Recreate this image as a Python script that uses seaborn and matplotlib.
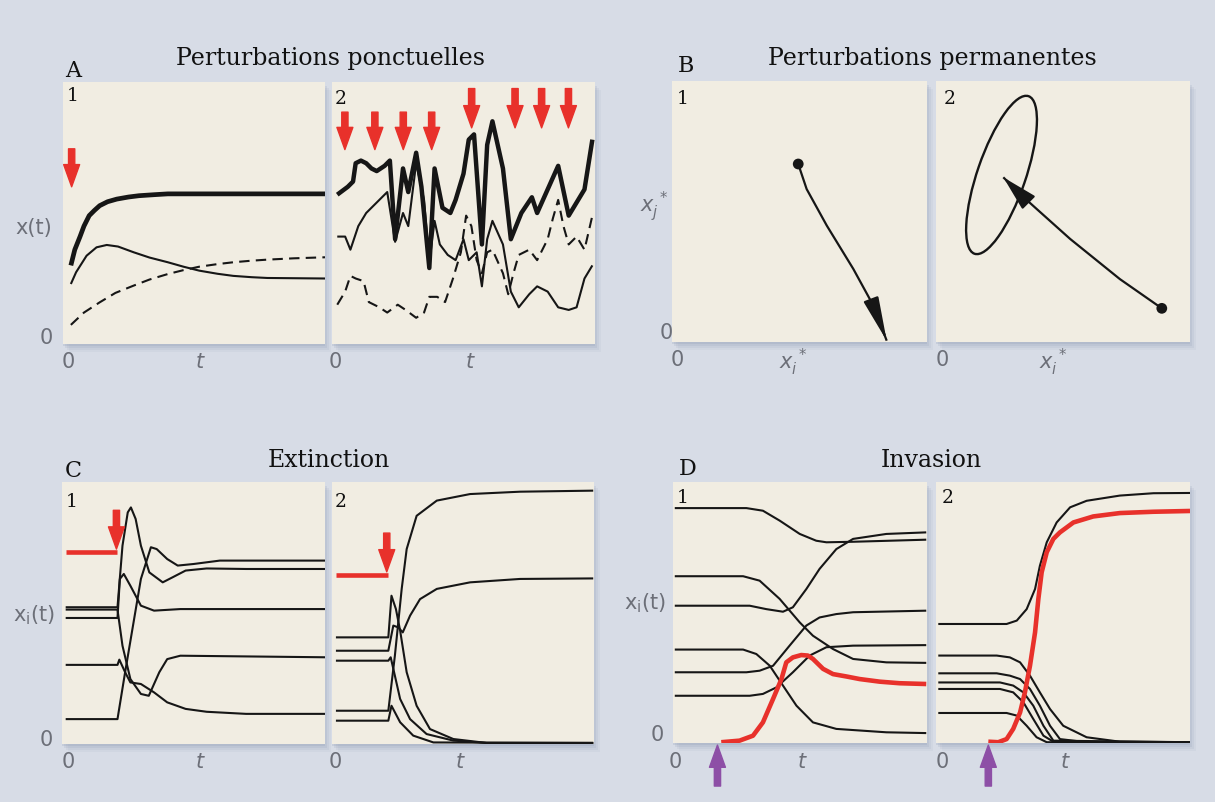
import matplotlib
matplotlib.use("Agg")
import matplotlib.pyplot as plt
import matplotlib.patches as patches
import seaborn as sns

W, H = 1215, 803

BG = "#d7dce6"
PANEL = "#f1ede2"
RED = "#e8312b"
PURPLE = "#8d4fa6"
GREY = "#6c6f78"
INK = "#161616"

# ---------------- A : perturbations ponctuelles ----------------
A1_THICK_T = [0.03, 0.045, 0.065, 0.08, 0.10, 0.12, 0.14, 0.17, 0.205, 0.25, 0.29, 0.35, 0.40, 1.0]
A1_THICK_Y = [0.30, 0.36, 0.41, 0.45, 0.49, 0.51, 0.528, 0.543, 0.553, 0.561, 0.566, 0.570, 0.573, 0.573]
A1_THIN_T = [0.03, 0.05, 0.09, 0.128, 0.167, 0.21, 0.27, 0.33, 0.40, 0.46, 0.52, 0.59, 0.65, 0.72, 0.78, 1.0]
A1_THIN_Y = [0.229, 0.274, 0.337, 0.369, 0.378, 0.372, 0.35, 0.33, 0.312, 0.295, 0.28, 0.268, 0.26, 0.255, 0.252, 0.25]
A1_DASH_T = [0.03, 0.08, 0.14, 0.20, 0.27, 0.33, 0.40, 0.46, 0.52, 0.59, 0.65, 0.72, 0.78, 0.88, 1.0]
A1_DASH_Y = [0.073, 0.12, 0.159, 0.195, 0.223, 0.246, 0.267, 0.282, 0.295, 0.305, 0.312, 0.318, 0.322, 0.327, 0.331]
A1_KICKS = [0.033]

A2_THICK_T = [0.02, 0.06, 0.08, 0.09, 0.11, 0.13, 0.15, 0.17, 0.20, 0.22, 0.24, 0.27, 0.29, 0.32, 0.34, 0.37,
              0.39, 0.42, 0.45, 0.47, 0.50, 0.52, 0.54, 0.57, 0.59, 0.61, 0.65, 0.68, 0.72, 0.76, 0.78, 0.82,
              0.86, 0.90, 0.96, 0.99]
A2_THICK_Y = [0.57, 0.60, 0.62, 0.69, 0.70, 0.69, 0.67, 0.66, 0.68, 0.70, 0.40, 0.67, 0.58, 0.73, 0.60, 0.29,
              0.67, 0.52, 0.50, 0.55, 0.65, 0.78, 0.80, 0.38, 0.76, 0.85, 0.67, 0.40, 0.50, 0.56, 0.50, 0.59,
              0.68, 0.49, 0.59, 0.78]
A2_THIN_T = [0.02, 0.05, 0.07, 0.10, 0.13, 0.16, 0.18, 0.21, 0.24, 0.27, 0.29, 0.32, 0.35, 0.37, 0.39, 0.41,
             0.44, 0.47, 0.50, 0.52, 0.55, 0.57, 0.59, 0.61, 0.65, 0.68, 0.71, 0.75, 0.78, 0.82, 0.86, 0.90,
             0.93, 0.96, 0.99]
A2_THIN_Y = [0.41, 0.41, 0.36, 0.45, 0.50, 0.53, 0.55, 0.58, 0.39, 0.50, 0.45, 0.69, 0.55, 0.31, 0.47, 0.38,
             0.34, 0.32, 0.40, 0.32, 0.35, 0.22, 0.40, 0.47, 0.38, 0.20, 0.14, 0.19, 0.22, 0.20, 0.14, 0.13,
             0.14, 0.25, 0.30]
A2_DASH_T = [0.02, 0.05, 0.07, 0.09, 0.12, 0.14, 0.18, 0.21, 0.25, 0.28, 0.32, 0.35, 0.37, 0.40, 0.43, 0.46,
             0.49, 0.51, 0.53, 0.55, 0.57, 0.59, 0.61, 0.65, 0.67, 0.69, 0.71, 0.75, 0.78, 0.82, 0.84, 0.86,
             0.88, 0.90, 0.93, 0.96, 0.99]
A2_DASH_Y = [0.15, 0.20, 0.26, 0.25, 0.24, 0.16, 0.14, 0.12, 0.15, 0.13, 0.10, 0.12, 0.18, 0.18, 0.16, 0.25,
             0.35, 0.49, 0.45, 0.32, 0.27, 0.35, 0.36, 0.27, 0.19, 0.27, 0.34, 0.36, 0.32, 0.40, 0.48, 0.55,
             0.45, 0.38, 0.41, 0.36, 0.49]
A2_KICKS_LOW = [0.049, 0.163, 0.271, 0.379]
A2_KICKS_HIGH = [0.531, 0.696, 0.797, 0.899]

# ---------------- B : perturbations permanentes ----------------
B1_PATH_X = [0.495, 0.528, 0.607, 0.711, 0.79, 0.842]
B1_PATH_Y = [0.682, 0.586, 0.446, 0.280, 0.139, 0.005]
B2_PATH_X = [0.889, 0.724, 0.528, 0.396, 0.331, 0.265]
B2_PATH_Y = [0.129, 0.241, 0.395, 0.510, 0.567, 0.631]
B2_CYCLE = {"center": (0.258, 0.640), "width": 0.64, "height": 0.19, "angle": 70.5}

# ---------------- C : extinction ----------------
C1_CURVES = [
    ([0.014, 0.211, 0.23, 0.25, 0.262, 0.28, 0.30, 0.332, 0.383, 0.42, 0.47, 0.55, 0.70, 1.0],
     [0.522, 0.522, 0.757, 0.884, 0.903, 0.859, 0.757, 0.655, 0.617, 0.636, 0.662, 0.670, 0.668, 0.668]),
    ([0.014, 0.211, 0.24, 0.27, 0.30, 0.338, 0.36, 0.40, 0.44, 0.50, 0.60, 1.0],
     [0.095, 0.095, 0.274, 0.452, 0.630, 0.751, 0.744, 0.706, 0.681, 0.687, 0.700, 0.700]),
    ([0.014, 0.211, 0.22, 0.235, 0.26, 0.30, 0.35, 0.45, 1.0],
     [0.481, 0.481, 0.630, 0.649, 0.604, 0.528, 0.509, 0.515, 0.515]),
    ([0.014, 0.211, 0.23, 0.26, 0.30, 0.33, 0.37, 0.40, 0.45, 1.0],
     [0.513, 0.513, 0.375, 0.248, 0.191, 0.184, 0.274, 0.324, 0.337, 0.331]),
    ([0.014, 0.211, 0.218, 0.24, 0.26, 0.30, 0.35, 0.40, 0.47, 0.55, 0.70, 1.0],
     [0.302, 0.302, 0.322, 0.274, 0.235, 0.229, 0.197, 0.159, 0.134, 0.123, 0.115, 0.115]),
]
C1_LOST_T = [0.014, 0.211]
C1_LOST_Y = [0.732, 0.732]
C1_KICK = 0.207

C2_CURVES = [
    ([0.015, 0.215, 0.240, 0.266, 0.285, 0.323, 0.400, 0.527, 0.718, 0.997],
     [0.127, 0.127, 0.337, 0.592, 0.744, 0.871, 0.929, 0.954, 0.963, 0.967]),
    ([0.015, 0.215, 0.227, 0.244, 0.260, 0.285, 0.323, 0.374, 0.463, 0.590, 0.997],
     [0.407, 0.407, 0.566, 0.515, 0.433, 0.274, 0.146, 0.057, 0.019, 0.004, 0.004]),
    ([0.015, 0.215, 0.234, 0.253, 0.270, 0.298, 0.336, 0.400, 0.527, 0.718, 0.997],
     [0.356, 0.356, 0.452, 0.445, 0.426, 0.490, 0.553, 0.592, 0.617, 0.630, 0.632]),
    ([0.015, 0.215, 0.224, 0.237, 0.260, 0.298, 0.361, 0.463, 0.590, 0.997],
     [0.318, 0.318, 0.331, 0.274, 0.172, 0.095, 0.038, 0.013, 0.004, 0.004]),
    ([0.015, 0.215, 0.227, 0.260, 0.310, 0.387, 0.997],
     [0.089, 0.089, 0.146, 0.083, 0.032, 0.006, 0.004]),
]
C2_LOST_T = [0.015, 0.215]
C2_LOST_Y = [0.645, 0.645]
C2_KICK = 0.209

# ---------------- D : invasion ----------------
D1_CURVES = [
    ([0.007, 0.289, 0.354, 0.420, 0.499, 0.564, 0.604, 0.709, 0.997],
     [0.900, 0.900, 0.890, 0.852, 0.801, 0.775, 0.769, 0.771, 0.779]),
    ([0.007, 0.276, 0.341, 0.420, 0.499, 0.551, 0.630, 0.709, 0.840, 0.997],
     [0.639, 0.639, 0.622, 0.552, 0.462, 0.411, 0.360, 0.322, 0.309, 0.307]),
    ([0.007, 0.302, 0.367, 0.433, 0.472, 0.525, 0.577, 0.643, 0.709, 0.840, 0.997],
     [0.526, 0.526, 0.513, 0.503, 0.520, 0.590, 0.667, 0.743, 0.782, 0.801, 0.807]),
    ([0.007, 0.276, 0.328, 0.381, 0.433, 0.486, 0.551, 0.643, 0.840, 0.997],
     [0.358, 0.358, 0.341, 0.296, 0.220, 0.143, 0.079, 0.054, 0.041, 0.038]),
    ([0.007, 0.289, 0.341, 0.394, 0.459, 0.525, 0.577, 0.643, 0.709, 0.997],
     [0.271, 0.271, 0.277, 0.296, 0.373, 0.450, 0.481, 0.494, 0.501, 0.507]),
    ([0.007, 0.302, 0.354, 0.407, 0.472, 0.538, 0.604, 0.709, 0.997],
     [0.181, 0.181, 0.188, 0.213, 0.271, 0.335, 0.367, 0.373, 0.375]),
]
D1_INVADER_T = [0.190, 0.262, 0.315, 0.354, 0.394, 0.427, 0.446, 0.472, 0.505, 0.531, 0.551, 0.591,
                0.630, 0.682, 0.735, 0.814, 0.892, 0.997]
D1_INVADER_Y = [0.003, 0.009, 0.028, 0.079, 0.169, 0.245, 0.309, 0.328, 0.337, 0.335, 0.322, 0.284,
                0.264, 0.255, 0.245, 0.235, 0.229, 0.226]
D1_ENTRY = 0.175

D2_CURVES = [
    ([0.009, 0.278, 0.318, 0.357, 0.390, 0.409, 0.436, 0.475, 0.528, 0.593, 0.724, 0.856, 1.0],
     [0.456, 0.456, 0.469, 0.513, 0.590, 0.679, 0.769, 0.845, 0.903, 0.928, 0.948, 0.957, 0.958]),
    ([0.009, 0.239, 0.291, 0.331, 0.370, 0.409, 0.449, 0.501, 0.593, 0.724, 1.0],
     [0.335, 0.335, 0.328, 0.309, 0.258, 0.194, 0.130, 0.066, 0.022, 0.005, 0.003]),
    ([0.009, 0.239, 0.291, 0.331, 0.370, 0.409, 0.449, 0.488, 0.593, 1.0],
     [0.267, 0.267, 0.258, 0.245, 0.207, 0.143, 0.066, 0.015, 0.003, 0.003]),
    ([0.009, 0.252, 0.304, 0.344, 0.383, 0.423, 0.462, 1.0],
     [0.232, 0.232, 0.220, 0.194, 0.143, 0.066, 0.009, 0.003]),
    ([0.009, 0.252, 0.304, 0.344, 0.383, 0.423, 0.462, 1.0],
     [0.207, 0.207, 0.194, 0.156, 0.092, 0.028, 0.005, 0.003]),
    ([0.009, 0.278, 0.318, 0.357, 0.396, 0.436, 1.0],
     [0.115, 0.115, 0.105, 0.066, 0.022, 0.003, 0.003]),
]
D2_INVADER_T = [0.206, 0.245, 0.278, 0.304, 0.331, 0.350, 0.370, 0.390, 0.403, 0.416, 0.436, 0.462,
                0.488, 0.541, 0.619, 0.724, 0.856, 1.0]
D2_INVADER_Y = [0.005, 0.003, 0.015, 0.054, 0.117, 0.194, 0.296, 0.424, 0.552, 0.654, 0.731, 0.782,
                0.807, 0.845, 0.868, 0.881, 0.886, 0.889]
D2_ENTRY = 0.206

# panel boxes in pixels: left, top, right, bottom
BOXES = {
    "A1": (63, 83, 325, 345), "A2": (332, 83, 595, 345),
    "B1": (672, 82, 927, 343), "B2": (936, 82, 1190, 343),
    "C1": (62, 483, 325, 745), "C2": (332, 483, 594, 745),
    "D1": (673, 483, 927, 744), "D2": (936, 483, 1190, 744),
}

sns.set_theme(style="white")
plt.rcParams["font.family"] = ["DejaVu Sans"]
plt.rcParams["mathtext.fontset"] = "dejavusans"

fig = plt.figure(figsize=(W / 100, H / 100), dpi=100)
fig.patch.set_facecolor(BG)


def fx(px):
    return px / W


def fy(py):
    return 1 - py / H


axes = {}
for name, (l, t, r, b) in BOXES.items():
    # soft bluish drop shadow
    for k, a in [(8, 0.08), (6, 0.11), (4, 0.15), (2, 0.2)]:
        fig.add_artist(patches.Rectangle((fx(l + k - 2), fy(b + k)), (r - l) / W, (b - t) / H,
                                         transform=fig.transFigure, facecolor="#8693ad",
                                         edgecolor="none", alpha=a, zorder=-2))
    ax = fig.add_axes([fx(l), fy(b), (r - l) / W, (b - t) / H])
    ax.set_facecolor(PANEL)
    ax.set_xlim(0, 1)
    ax.set_ylim(0, 1)
    ax.set_xticks([])
    ax.set_yticks([])
    for s in ax.spines.values():
        s.set_visible(False)
    axes[name] = ax


def curve(ax, t, y, color=INK, lw=1.3, **kw):
    sns.lineplot(x=t, y=y, ax=ax, color=color, linewidth=lw, sort=False,
                 estimator=None, solid_capstyle="butt", **kw)


def kick(ax, t, top, tip, color=RED):
    ax.annotate("", xy=(t, tip), xytext=(t, top), annotation_clip=False,
                arrowprops=dict(arrowstyle="simple,head_length=1.6,head_width=1.15,tail_width=0.45",
                                color=color, shrinkA=0, shrinkB=0, mutation_scale=10))


# A1
ax = axes["A1"]
curve(ax, A1_THICK_T, A1_THICK_Y, lw=3.4)
curve(ax, A1_THIN_T, A1_THIN_Y, lw=1.5)
curve(ax, A1_DASH_T, A1_DASH_Y, lw=1.5, linestyle=(0, (5, 3)))
for k in A1_KICKS:
    kick(ax, k, 0.745, 0.600)

# A2
ax = axes["A2"]
curve(ax, A2_THICK_T, A2_THICK_Y, lw=3.2)
curve(ax, A2_THIN_T, A2_THIN_Y, lw=1.5)
curve(ax, A2_DASH_T, A2_DASH_Y, lw=1.5, linestyle=(0, (5, 3)))
for k in A2_KICKS_LOW:
    kick(ax, k, 0.885, 0.742)
for k in A2_KICKS_HIGH:
    kick(ax, k, 0.975, 0.825)

# B1
ax = axes["B1"]
curve(ax, B1_PATH_X, B1_PATH_Y, lw=1.6)
sns.scatterplot(x=B1_PATH_X[:1], y=B1_PATH_Y[:1], ax=ax, color=INK, s=60, edgecolor="none")
ax.annotate("", xy=(B1_PATH_X[-1], B1_PATH_Y[-1]), xytext=(B1_PATH_X[-2], B1_PATH_Y[-2]),
            annotation_clip=False,
            arrowprops=dict(arrowstyle="-|>,head_length=1.35,head_width=0.24", color=INK, lw=1.6,
                            shrinkA=0, shrinkB=0, mutation_scale=20))

# B2
ax = axes["B2"]
ax.add_patch(patches.Ellipse(B2_CYCLE["center"], B2_CYCLE["width"], B2_CYCLE["height"],
                             angle=B2_CYCLE["angle"], fill=False, edgecolor=INK, lw=1.7))
curve(ax, B2_PATH_X, B2_PATH_Y, lw=1.6)
sns.scatterplot(x=B2_PATH_X[:1], y=B2_PATH_Y[:1], ax=ax, color=INK, s=60, edgecolor="none")
ax.annotate("", xy=(B2_PATH_X[-1], B2_PATH_Y[-1]), xytext=(B2_PATH_X[-2], B2_PATH_Y[-2]),
            arrowprops=dict(arrowstyle="-|>,head_length=1.1,head_width=0.28", color=INK, lw=1.6,
                            shrinkA=0, shrinkB=0, mutation_scale=20))

# C1 / C2
for key, curves, lt, ly, k in [("C1", C1_CURVES, C1_LOST_T, C1_LOST_Y, C1_KICK),
                               ("C2", C2_CURVES, C2_LOST_T, C2_LOST_Y, C2_KICK)]:
    ax = axes[key]
    for t, y in curves:
        curve(ax, t, y, lw=1.5)
    curve(ax, lt, ly, color=RED, lw=3.3)
    kick(ax, k, ly[0] + 0.16, ly[0] + 0.012)

# D1 / D2
for key, curves, it, iy, e in [("D1", D1_CURVES, D1_INVADER_T, D1_INVADER_Y, D1_ENTRY),
                               ("D2", D2_CURVES, D2_INVADER_T, D2_INVADER_Y, D2_ENTRY)]:
    ax = axes[key]
    for t, y in curves:
        curve(ax, t, y, lw=1.5)
    curve(ax, it, iy, color=RED, lw=3.3)
    kick(ax, e, -0.165, -0.008, color=PURPLE)

# titles & letters
SERIF = ["DejaVu Serif"]
for txt, x, y in [("Perturbations ponctuelles", 330, 58), ("Perturbations permanentes", 932, 58),
                  ("Extinction", 329, 461), ("Invasion", 931, 461)]:
    fig.text(fx(x), fy(y), txt, ha="center", va="center", family=SERIF, size=17, color="#111111")
for txt, x, y in [("A", 73, 71), ("B", 686, 66), ("C", 73, 471), ("D", 688, 469)]:
    fig.text(fx(x), fy(y), txt, ha="center", va="center", family=SERIF, size=16, color="#111111")
for txt, x, y in [("1", 73, 96), ("2", 341, 99), ("1", 683, 99), ("2", 950, 99),
                  ("1", 72, 502), ("2", 341, 502), ("1", 683, 498), ("2", 948, 498)]:
    fig.text(fx(x), fy(y), txt, ha="center", va="center", family=SERIF, size=13.5, color="#111111")

# axis annotations
for txt, x, y, st in [("x(t)", 34, 228, "normal"), ("0", 46, 338, "normal"), ("0", 68, 362, "normal"),
                      ("t", 200, 362, "italic"), ("0", 335, 362, "normal"), ("t", 470, 362, "italic"),
                      ("0", 666, 333, "normal"), ("0", 677, 360, "normal"), ("0", 942, 360, "normal"),
                      ("0", 46, 740, "normal"), ("0", 68, 762, "normal"), ("t", 200, 762, "italic"),
                      ("0", 335, 762, "normal"), ("t", 460, 762, "italic"),
                      ("0", 657, 735, "normal"), ("0", 675, 762, "normal"), ("t", 802, 762, "italic"),
                      ("0", 942, 762, "normal"), ("t", 1065, 762, "italic")]:
    fig.text(fx(x), fy(y), txt, ha="center", va="center", size=15, color=GREY, style=st)
for txt, x, y in [(r"$x_j^{\,*}$", 654, 207), (r"$x_i^{\,*}$", 793, 362), (r"$x_i^{\,*}$", 1053, 362),
                  (r"$\mathregular{x_i(t)}$", 34, 615), (r"$\mathregular{x_i(t)}$", 645, 603)]:
    fig.text(fx(x), fy(y), txt, ha="center", va="center", size=15, color=GREY)

fig.savefig("out.png", dpi=100, facecolor=BG)
